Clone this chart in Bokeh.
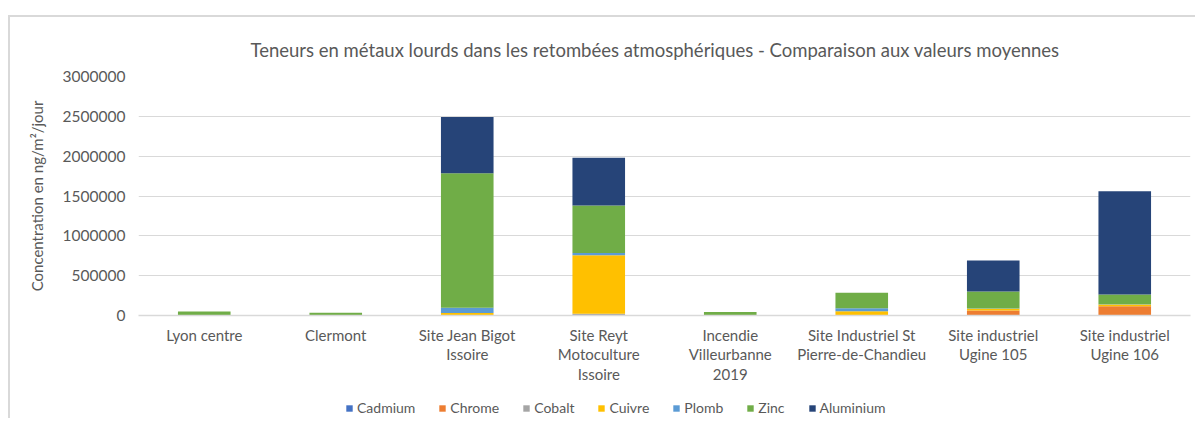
from bokeh.plotting import figure
from bokeh.layouts import column
from bokeh.models import Range1d, FactorRange, Legend, LegendItem, SingleIntervalTicker, NumeralTickFormatter
from bokeh.embed import file_html
from bokeh.resources import INLINE

sites = ["Lyon centre", "Clermont", "Site Jean Bigot\nIssoire", "Site Reyt\nMotoculture\nIssoire",
         "Incendie\nVilleurbanne\n2019", "Site Industriel St\nPierre-de-Chandieu",
         "Site industriel\nUgine 105", "Site industriel\nUgine 106"]
metals = ["Cadmium", "Chrome", "Cobalt", "Cuivre", "Plomb", "Zinc", "Aluminium"]
colors = ["#4472C4", "#ED7D31", "#A5A5A5", "#FFC000", "#5B9BD5", "#70AD47", "#264478"]

cadmium = [100, 100, 500, 500, 100, 300, 300, 300]
chrome = [500, 300, 5000, 5000, 500, 3000, 62000, 115000]
cobalt = [200, 100, 1000, 15000, 200, 1000, 1000, 2000]
cuivre = [2000, 2000, 25000, 735000, 3000, 48000, 20000, 20000]
plomb = [3000, 2000, 65000, 30000, 3000, 40000, 3000, 3000]
zinc = [45000, 30000, 1690000, 595000, 38000, 193000, 214000, 123000]
aluminium = [0, 0, 705000, 600000, 0, 0, 390000, 1295000]

data = dict(site=sites, Cadmium=cadmium, Chrome=chrome, Cobalt=cobalt, Cuivre=cuivre,
            Plomb=plomb, Zinc=zinc, Aluminium=aluminium)

FONT = "Lato"
GREY = "#595959"

p = figure(x_range=FactorRange(*sites), y_range=Range1d(0, 3000000),
           width=1185, height=378, output_backend="svg", toolbar_location=None,
           title="Teneurs en métaux lourds dans les retombées atmosphériques - Comparaison aux valeurs moyennes")
p.min_border_left = 128
p.min_border_right = 5
p.min_border_top = 59
p.min_border_bottom = 80
p.outline_line_color = None

rs = p.vbar_stack(metals, x="site", width=0.4, color=colors, source=data, line_color=None)

p.title.align = "left"
p.title.text_font = FONT
p.title.text_font_size = "18.5px"
p.title.text_font_style = "normal"
p.title.text_color = GREY
p.title.offset = 112
p.title.standoff = 31

p.xgrid.grid_line_color = None
p.ygrid.grid_line_color = "#D9D9D9"
p.ygrid.grid_line_width = 1

p.yaxis.ticker = SingleIntervalTicker(interval=500000)
p.yaxis.formatter = NumeralTickFormatter(format="0")
p.yaxis.axis_line_color = None
p.yaxis.major_tick_line_color = None
p.yaxis.minor_tick_line_color = None
p.yaxis.major_tick_out = 0
p.yaxis.major_tick_in = 0
p.yaxis.major_label_text_font = FONT
p.yaxis.major_label_text_font_size = "15.5px"
p.yaxis.major_label_text_color = GREY
p.yaxis.major_label_standoff = 9
p.yaxis.axis_label = "Concentration en ng/m²/jour"
p.yaxis.axis_label_text_font = FONT
p.yaxis.axis_label_text_font_size = "15px"
p.yaxis.axis_label_text_font_style = "normal"
p.yaxis.axis_label_text_color = GREY
p.yaxis.axis_label_standoff = 14

p.xaxis.axis_line_color = "#D9D9D9"
p.xaxis.axis_line_width = 1.5
p.xaxis.major_tick_line_color = None
p.xaxis.minor_tick_line_color = None
p.xaxis.major_tick_out = 0
p.xaxis.major_tick_in = 0
p.xaxis.major_label_text_font = FONT
p.xaxis.major_label_text_font_size = "15px"
p.xaxis.major_label_text_color = GREY
p.xaxis.major_label_text_line_height = 1.1
p.xaxis.major_label_standoff = 10

# legend strip below the chart (swatches come from off-range, zero-height glyphs)
lg = figure(x_range=Range1d(0, 1), y_range=Range1d(0, 1), width=1185, height=23,
            output_backend="svg", toolbar_location=None)
lg.min_border = 0
lg.outline_line_color = None
lg.axis.visible = False
lg.grid.visible = False
lrs = [lg.vbar(x=[5], top=[0], width=0.1, color=c, line_color=None) for c in colors]

items = [LegendItem(label=m, renderers=[r]) for m, r in zip(metals, lrs)]
legend = Legend(items=items, orientation="horizontal", location=(207, 2))
legend.label_text_font = FONT
legend.label_text_font_size = "14px"
legend.label_text_color = GREY
legend.glyph_width = 8
legend.glyph_height = 8
legend.label_standoff = 4
legend.spacing = 23
legend.border_line_color = None
legend.background_fill_alpha = 0
legend.padding = 0
legend.margin = 0
lg.add_layout(legend)

layout = column(p, lg, spacing=0, margin=(15, 0, 0, 8),
                styles={"border-left": "2px solid #D9D9D9", "border-top": "2px solid #D9D9D9"})
open("out.html", "w").write(file_html(layout, INLINE))
